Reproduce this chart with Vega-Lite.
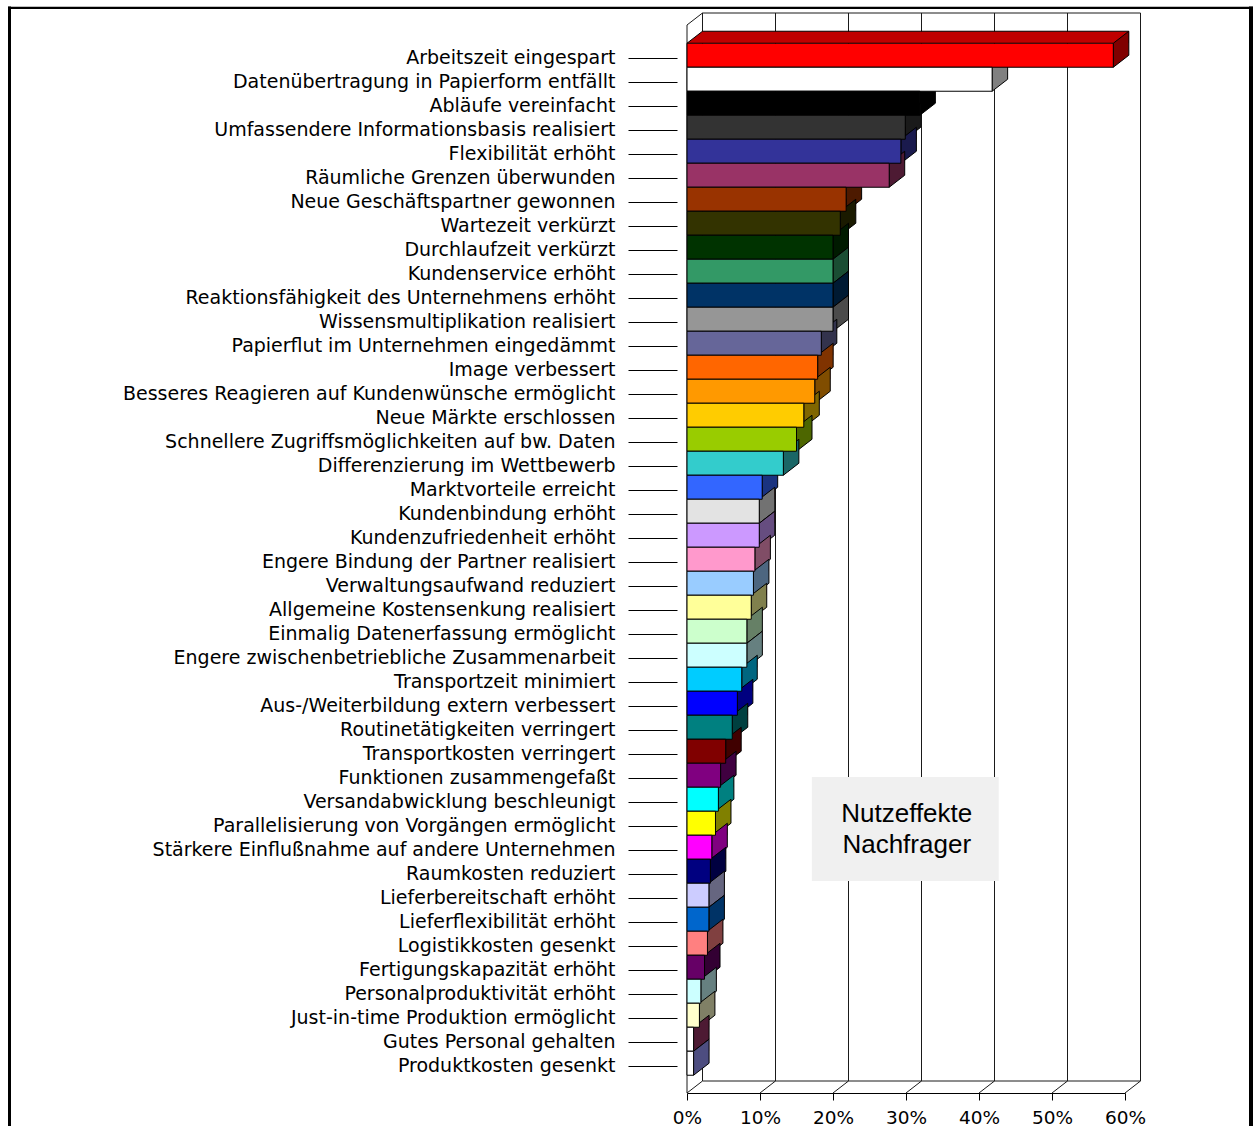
{
  "$schema": "https://vega.github.io/schema/vega-lite/v6.json",
  "width": 438,
  "height": 1068,
  "autosize": {"type": "none"},
  "padding": {"left": 687, "top": 25, "right": 130, "bottom": 33},
  "background": "white",
  "config": {"view": {"stroke": null}, "font": "Liberation Sans"},
  "datasets": {
    "bars": [
      {"label": "Arbeitszeit eingespart", "value": 58.4},
      {"label": "Datenübertragung in Papierform entfällt", "value": 41.8},
      {"label": "Abläufe vereinfacht", "value": 31.9},
      {"label": "Umfassendere Informationsbasis realisiert", "value": 29.9},
      {"label": "Flexibilität erhöht", "value": 29.3},
      {"label": "Räumliche Grenzen überwunden", "value": 27.7},
      {"label": "Neue Geschäftspartner gewonnen", "value": 21.8},
      {"label": "Wartezeit verkürzt", "value": 21.0},
      {"label": "Durchlaufzeit verkürzt", "value": 20.0},
      {"label": "Kundenservice erhöht", "value": 20.0},
      {"label": "Reaktionsfähigkeit des Unternehmens erhöht", "value": 20.0},
      {"label": "Wissensmultiplikation realisiert", "value": 20.0},
      {"label": "Papierflut im Unternehmen eingedämmt", "value": 18.4},
      {"label": "Image verbessert", "value": 17.9},
      {"label": "Besseres Reagieren auf Kundenwünsche ermöglicht", "value": 17.5},
      {"label": "Neue Märkte erschlossen", "value": 16.0},
      {"label": "Schnellere Zugriffsmöglichkeiten auf bw. Daten", "value": 15.0},
      {"label": "Differenzierung im Wettbewerb", "value": 13.2},
      {"label": "Marktvorteile erreicht", "value": 10.3},
      {"label": "Kundenbindung erhöht", "value": 9.9},
      {"label": "Kundenzufriedenheit erhöht", "value": 9.9},
      {"label": "Engere Bindung der Partner realisiert", "value": 9.3},
      {"label": "Verwaltungsaufwand reduziert", "value": 9.1},
      {"label": "Allgemeine Kostensenkung realisiert", "value": 8.8},
      {"label": "Einmalig Datenerfassung ermöglicht", "value": 8.2},
      {"label": "Engere zwischenbetriebliche Zusammenarbeit", "value": 8.2},
      {"label": "Transportzeit minimiert", "value": 7.5},
      {"label": "Aus-/Weiterbildung extern verbessert", "value": 6.9},
      {"label": "Routinetätigkeiten verringert", "value": 6.2},
      {"label": "Transportkosten verringert", "value": 5.3},
      {"label": "Funktionen zusammengefaßt", "value": 4.6},
      {"label": "Versandabwicklung beschleunigt", "value": 4.3},
      {"label": "Parallelisierung von Vorgängen ermöglicht", "value": 3.9},
      {"label": "Stärkere Einflußnahme auf andere Unternehmen", "value": 3.4},
      {"label": "Raumkosten reduziert", "value": 3.2},
      {"label": "Lieferbereitschaft erhöht", "value": 3.0},
      {"label": "Lieferflexibilität erhöht", "value": 3.0},
      {"label": "Logistikkosten gesenkt", "value": 2.8},
      {"label": "Fertigungskapazität erhöht", "value": 2.4},
      {"label": "Personalproduktivität erhöht", "value": 1.9},
      {"label": "Just-in-time Produktion ermöglicht", "value": 1.7},
      {"label": "Gutes Personal gehalten", "value": 0.9},
      {"label": "Produktkosten gesenkt", "value": 0.9}
    ],
    "grid": [{"g": 0}, {"g": 10}, {"g": 20}, {"g": 30}, {"g": 40}, {"g": 50}, {"g": 60}]
  },
  "layer": [
    {
      "layer": [
        {
          "data": {"values": [{}]},
          "mark": {"type": "rule", "color": "#000000", "strokeWidth": 2.3, "xOffset": -679, "x2Offset": 128, "yOffset": -17.2},
          "encoding": {
            "x": {"datum": 0, "type": "quantitative"},
            "x2": {"datum": 60},
            "y": {"datum": 1, "type": "quantitative", "scale": {"domain": [0, 1], "nice": false}, "axis": null}
          }
        },
        {
          "data": {"values": [{}]},
          "mark": {"type": "rule", "color": "#000000", "strokeWidth": 3, "xOffset": -677.5, "yOffset": -18.5, "y2Offset": 40},
          "encoding": {
            "x": {"datum": 0, "type": "quantitative"},
            "y": {"datum": 1, "type": "quantitative"},
            "y2": {"datum": 0}
          }
        },
        {
          "data": {"values": [{}]},
          "mark": {"type": "rule", "color": "#000000", "strokeWidth": 4, "xOffset": 126, "yOffset": -18.5, "y2Offset": 40},
          "encoding": {
            "x": {"datum": 60, "type": "quantitative"},
            "y": {"datum": 1, "type": "quantitative"},
            "y2": {"datum": 0}
          }
        },
        {
          "data": {"name": "grid"},
          "mark": {"type": "rule", "color": "#1a1a1a", "strokeWidth": 1, "xOffset": 15.5, "yOffset": -12, "y2Offset": -12},
          "encoding": {
            "x": {"field": "g", "type": "quantitative"},
            "y": {"datum": 1, "type": "quantitative"},
            "y2": {"datum": 0}
          }
        },
        {
          "data": {"values": [{}]},
          "mark": {"type": "rule", "color": "#1a1a1a", "strokeWidth": 1, "xOffset": 15.5, "x2Offset": 15.5, "yOffset": -12},
          "encoding": {
            "x": {"datum": 0, "type": "quantitative"},
            "x2": {"datum": 60},
            "y": {"datum": 1, "type": "quantitative"}
          }
        },
        {
          "data": {"values": [{}]},
          "mark": {"type": "rule", "color": "#1a1a1a", "strokeWidth": 1, "xOffset": 15.5, "x2Offset": 15.5, "yOffset": -12},
          "encoding": {
            "x": {"datum": 0, "type": "quantitative"},
            "x2": {"datum": 60},
            "y": {"datum": 0, "type": "quantitative"}
          }
        },
        {
          "data": {"values": [{}]},
          "mark": {"type": "rule", "color": "#1a1a1a", "strokeWidth": 1},
          "encoding": {
            "x": {"datum": 0, "type": "quantitative"},
            "y": {"datum": 1, "type": "quantitative"},
            "y2": {"datum": 0}
          }
        },
        {
          "data": {"values": [{}]},
          "mark": {"type": "rule", "color": "#1a1a1a", "strokeWidth": 1, "x2Offset": 15.5, "y2Offset": -12},
          "encoding": {
            "x": {"datum": 0, "type": "quantitative"},
            "x2": {"datum": 0},
            "y": {"datum": 1, "type": "quantitative"},
            "y2": {"datum": 1}
          }
        },
        {
          "data": {"name": "grid"},
          "mark": {"type": "rule", "color": "#1a1a1a", "strokeWidth": 1, "x2Offset": 15.5, "y2Offset": -12},
          "encoding": {
            "x": {"field": "g", "type": "quantitative"},
            "x2": {"field": "g"},
            "y": {"datum": 0, "type": "quantitative"},
            "y2": {"datum": 0}
          }
        },
        {
          "data": {"values": [{}]},
          "mark": {"type": "rect", "color": "#F0F0F0"},
          "encoding": {
            "x": {"datum": 17.1, "type": "quantitative"},
            "x2": {"datum": 42.7},
            "y": {"datum": 0.2959, "type": "quantitative"},
            "y2": {"datum": 0.1985}
          }
        },
        {
          "data": {"values": [{}]},
          "mark": {"type": "text", "text": ["Nutzeffekte", "Nachfrager"], "font": "Liberation Sans", "fontSize": 26, "lineHeight": 31, "align": "center", "baseline": "middle", "color": "#000000"},
          "encoding": {
            "x": {"datum": 30.1, "type": "quantitative"},
            "y": {"datum": 0.2612, "type": "quantitative"}
          }
        }
      ]
    },
    {
      "data": {"name": "bars"},
      "layer": [
        {
          "mark": {"type": "bar", "color": "#C00000", "height": 12, "yOffset": -21, "xOffset": 15.5, "x2Offset": 15},
          "encoding": {
            "x": {"field": "value", "type": "quantitative"},
            "x2": {"datum": 0},
            "y": {
              "field": "label", "type": "nominal", "sort": null,
              "scale": {"type": "band", "paddingInner": 0, "paddingOuter": 0.75, "align": 0.59},
              "axis": {"title": null, "orient": "left", "offset": 10, "domain": false, "ticks": true, "tickSize": 49, "tickColor": "#000000", "tickWidth": 1, "labelFont": "DejaVu Sans", "labelFontSize": 19, "labelColor": "#000000", "labelPadding": 13, "labelLimit": 1000}
            }
          }
        },
        {
          "mark": {"type": "point", "shape": "M0,-15L15.5,-27L15.5,-15Z", "size": 4, "filled": true, "color": "#C00000", "strokeWidth": 0, "opacity": 1},
          "encoding": {
            "x": {"datum": 0, "type": "quantitative"},
            "y": {"field": "label", "type": "nominal", "sort": null}
          }
        },
        {
          "mark": {"type": "rule", "color": "#000000", "strokeWidth": 1, "xOffset": 15.5, "x2Offset": 15.5, "yOffset": -27},
          "encoding": {
            "x": {"field": "value", "type": "quantitative"},
            "x2": {"datum": 0},
            "y": {"field": "label", "type": "nominal", "sort": null}
          }
        },
        {
          "mark": {"type": "point", "shape": "M0,-15L15.5,-27", "size": 4, "filled": false, "stroke": "#000000", "strokeWidth": 1, "opacity": 1},
          "encoding": {
            "x": {"datum": 0, "type": "quantitative"},
            "y": {"field": "label", "type": "nominal", "sort": null}
          }
        },
        {
          "mark": {"type": "point", "shape": "M0,-15L15.5,-27L15.5,-3L0,9Z", "size": 4, "filled": true, "stroke": "#000000", "strokeWidth": 1, "opacity": 1},
          "encoding": {
            "x": {"field": "value", "type": "quantitative"},
            "y": {"field": "label", "type": "nominal", "sort": null},
            "fill": {
              "field": "label", "type": "nominal", "sort": null, "legend": null,
              "scale": {
                "domain": ["Arbeitszeit eingespart", "Datenübertragung in Papierform entfällt", "Abläufe vereinfacht", "Umfassendere Informationsbasis realisiert", "Flexibilität erhöht", "Räumliche Grenzen überwunden", "Neue Geschäftspartner gewonnen", "Wartezeit verkürzt", "Durchlaufzeit verkürzt", "Kundenservice erhöht", "Reaktionsfähigkeit des Unternehmens erhöht", "Wissensmultiplikation realisiert", "Papierflut im Unternehmen eingedämmt", "Image verbessert", "Besseres Reagieren auf Kundenwünsche ermöglicht", "Neue Märkte erschlossen", "Schnellere Zugriffsmöglichkeiten auf bw. Daten", "Differenzierung im Wettbewerb", "Marktvorteile erreicht", "Kundenbindung erhöht", "Kundenzufriedenheit erhöht", "Engere Bindung der Partner realisiert", "Verwaltungsaufwand reduziert", "Allgemeine Kostensenkung realisiert", "Einmalig Datenerfassung ermöglicht", "Engere zwischenbetriebliche Zusammenarbeit", "Transportzeit minimiert", "Aus-/Weiterbildung extern verbessert", "Routinetätigkeiten verringert", "Transportkosten verringert", "Funktionen zusammengefaßt", "Versandabwicklung beschleunigt", "Parallelisierung von Vorgängen ermöglicht", "Stärkere Einflußnahme auf andere Unternehmen", "Raumkosten reduziert", "Lieferbereitschaft erhöht", "Lieferflexibilität erhöht", "Logistikkosten gesenkt", "Fertigungskapazität erhöht", "Personalproduktivität erhöht", "Just-in-time Produktion ermöglicht", "Gutes Personal gehalten", "Produktkosten gesenkt"],
                "range": ["#800000", "#808080", "#000000", "#1A1A1A", "#1A1A4D", "#4D1A33", "#4D1A00", "#1A1A00", "#001A00", "#1A4D33", "#001A33", "#4B4B4B", "#33334D", "#803300", "#804D00", "#806600", "#4D6600", "#1A6666", "#1A3380", "#727272", "#664D80", "#804D66", "#4D6680", "#80804D", "#668066", "#668080", "#006680", "#000080", "#004040", "#400000", "#400040", "#008080", "#808000", "#800080", "#000040", "#666680", "#003366", "#804040", "#330033", "#668080", "#808066", "#4D1A33", "#4D4D80"]
              }
            }
          }
        },
        {
          "mark": {"type": "bar", "stroke": "#000000", "strokeWidth": 1, "yOffset": -3},
          "encoding": {
            "x": {
              "field": "value", "type": "quantitative",
              "scale": {"domain": [0, 60], "nice": false},
              "axis": {"title": null, "values": [0, 10, 20, 30, 40, 50, 60], "labelExpr": "datum.value + '%'", "domain": true, "domainColor": "#000000", "domainWidth": 1, "ticks": true, "tickSize": 7, "tickColor": "#000000", "tickWidth": 1, "labelFont": "DejaVu Sans", "labelFontSize": 18.5, "labelColor": "#000000", "labelPadding": 8, "labelFlush": false, "grid": false}
            },
            "y": {"field": "label", "type": "nominal", "sort": null},
            "fill": {
              "field": "label", "type": "nominal", "sort": null, "legend": null,
              "scale": {
                "domain": ["Arbeitszeit eingespart", "Datenübertragung in Papierform entfällt", "Abläufe vereinfacht", "Umfassendere Informationsbasis realisiert", "Flexibilität erhöht", "Räumliche Grenzen überwunden", "Neue Geschäftspartner gewonnen", "Wartezeit verkürzt", "Durchlaufzeit verkürzt", "Kundenservice erhöht", "Reaktionsfähigkeit des Unternehmens erhöht", "Wissensmultiplikation realisiert", "Papierflut im Unternehmen eingedämmt", "Image verbessert", "Besseres Reagieren auf Kundenwünsche ermöglicht", "Neue Märkte erschlossen", "Schnellere Zugriffsmöglichkeiten auf bw. Daten", "Differenzierung im Wettbewerb", "Marktvorteile erreicht", "Kundenbindung erhöht", "Kundenzufriedenheit erhöht", "Engere Bindung der Partner realisiert", "Verwaltungsaufwand reduziert", "Allgemeine Kostensenkung realisiert", "Einmalig Datenerfassung ermöglicht", "Engere zwischenbetriebliche Zusammenarbeit", "Transportzeit minimiert", "Aus-/Weiterbildung extern verbessert", "Routinetätigkeiten verringert", "Transportkosten verringert", "Funktionen zusammengefaßt", "Versandabwicklung beschleunigt", "Parallelisierung von Vorgängen ermöglicht", "Stärkere Einflußnahme auf andere Unternehmen", "Raumkosten reduziert", "Lieferbereitschaft erhöht", "Lieferflexibilität erhöht", "Logistikkosten gesenkt", "Fertigungskapazität erhöht", "Personalproduktivität erhöht", "Just-in-time Produktion ermöglicht", "Gutes Personal gehalten", "Produktkosten gesenkt"],
                "range": ["#FF0000", "#FFFFFF", "#000000", "#333333", "#333399", "#993366", "#993300", "#333300", "#003300", "#339966", "#003366", "#969696", "#666699", "#FF6600", "#FF9900", "#FFCC00", "#99CC00", "#33CCCC", "#3366FF", "#E3E3E3", "#CC99FF", "#FF99CC", "#99CCFF", "#FFFF99", "#CCFFCC", "#CCFFFF", "#00CCFF", "#0000FF", "#008080", "#800000", "#800080", "#00FFFF", "#FFFF00", "#FF00FF", "#000080", "#CCCCFF", "#0066CC", "#FF8080", "#660066", "#CCFFFF", "#FFFFCC", "#FFFFFF", "#FFFFFF"]
              }
            }
          }
        }
      ],
      "resolve": {"scale": {"fill": "independent"}}
    }
  ],
  "resolve": {"scale": {"y": "independent"}}
}
